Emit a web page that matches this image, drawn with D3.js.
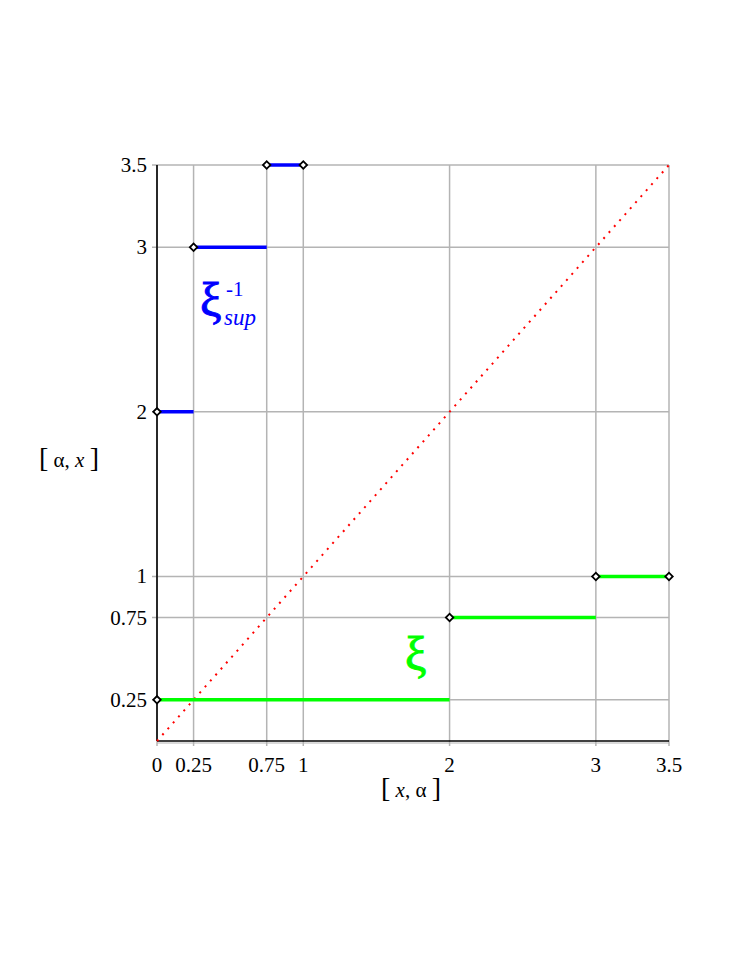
<!DOCTYPE html>
<html><head><meta charset="utf-8">
<script src="https://cdn.jsdelivr.net/npm/d3@7"></script>
<style>body{margin:0;background:#fff}svg{display:block}</style>
</head><body>
<script>
const xTicks = [0, 0.25, 0.75, 1, 2, 3, 3.5];
const yTicks = [0.25, 0.75, 1, 2, 3, 3.5];
const xiInvSup = [[0, 0.25, 2], [0.25, 0.75, 3], [0.75, 1, 3.5]];
const xiInvSupPoints = [[0, 2], [0.25, 3], [0.75, 3.5], [1, 3.5]];
const xi = [[0, 2, 0.25], [2, 3, 0.75], [3, 3.5, 1]];
const xiPoints = [[0, 0.25], [2, 0.75], [3, 1], [3.5, 1]];
const diag = [[0, 0], [3.5, 3.5]];

const W = 738, H = 955;
const svg = d3.select("body").append("svg").attr("width", W).attr("height", H);
const x = d3.scaleLinear().domain([0, 3.5]).range([157, 669]);
const y = d3.scaleLinear().domain([0, 3.5]).range([741, 165]);
const font = "'Liberation Serif', 'Times New Roman', serif";

// grid
const g = svg.append("g");
g.selectAll(".vg").data(xTicks).join("line")
  .attr("x1", d => x(d)).attr("x2", d => x(d)).attr("y1", y(3.5)).attr("y2", y(0) + 5)
  .attr("stroke", "#b4b4b4").attr("stroke-width", 1.5);
g.selectAll(".hg").data(yTicks).join("line")
  .attr("y1", d => y(d)).attr("y2", d => y(d)).attr("x1", x(0) - 5).attr("x2", x(3.5))
  .attr("stroke", "#b4b4b4").attr("stroke-width", 1.5);
svg.append("line").attr("x1", x(0)).attr("x2", x(3.5)).attr("y1", y(0) + 2).attr("y2", y(0) + 2).attr("stroke", "#b4b4b4").attr("stroke-width", 1);

// axes
svg.append("line").attr("x1", x(0)).attr("x2", x(0)).attr("y1", y(3.5)).attr("y2", y(0)).attr("stroke", "#000").attr("stroke-width", 1.6);
svg.append("line").attr("x1", x(0)).attr("x2", x(3.5)).attr("y1", y(0)).attr("y2", y(0)).attr("stroke", "#000").attr("stroke-width", 1.6);

// tick labels
svg.selectAll(".xl").data(xTicks).join("text")
  .attr("x", d => x(d)).attr("y", 772).attr("text-anchor", "middle")
  .attr("font-family", font).attr("font-size", 21).text(d => d);
svg.selectAll(".yl").data(yTicks).join("text")
  .attr("x", 147).attr("y", d => y(d) + 7).attr("text-anchor", "end")
  .attr("font-family", font).attr("font-size", 21).text(d => d);

// axis titles
function title(xc, yb, parts) {
  const t = svg.append("text").attr("x", xc).attr("y", yb).attr("text-anchor", "middle")
    .attr("font-family", font).attr("font-size", 21);
  parts.forEach(p => {
    const s = t.append("tspan").text(p.t);
    if (p.i) s.attr("font-style", "italic");
    if (p.b) s.attr("font-size", 28).attr("font-weight", 100);
  });
}
title(411, 797, [{t: "[", b: 1}, {t: " "}, {t: "x", i: 1}, {t: ", α "}, {t: "]", b: 1}]);
title(69, 467, [{t: "[", b: 1}, {t: " α, "}, {t: "x", i: 1}, {t: " "}, {t: "]", b: 1}]);

// diagonal
svg.append("path").datum(diag)
  .attr("d", d3.line().x(d => x(d[0])).y(d => y(d[1])))
  .attr("stroke", "#ff0000").attr("stroke-width", 2).attr("stroke-dasharray", "2,6").attr("fill", "none");

// segments
svg.selectAll(".bs").data(xiInvSup).join("line")
  .attr("x1", d => x(d[0])).attr("x2", d => x(d[1])).attr("y1", d => y(d[2])).attr("y2", d => y(d[2]))
  .attr("stroke", "#0000ff").attr("stroke-width", 3.5);
svg.selectAll(".gs").data(xi).join("line")
  .attr("x1", d => x(d[0])).attr("x2", d => x(d[1])).attr("y1", d => y(d[2])).attr("y2", d => y(d[2]))
  .attr("stroke", "#00ff00").attr("stroke-width", 3.5);

// diamonds
const sym = d3.symbol().type(d3.symbolSquare).size(28);
svg.selectAll(".pt").data(xiInvSupPoints.concat(xiPoints)).join("path")
  .attr("d", sym)
  .attr("transform", d => `translate(${x(d[0])},${y(d[1])}) rotate(45)`)
  .attr("fill", "#fff").attr("stroke", "#000").attr("stroke-width", 1.8);

// labels
svg.append("text").attr("x", 200).attr("y", 316).attr("fill", "#0000ff").attr("stroke", "#0000ff").attr("stroke-width", 1)
  .attr("font-family", font).attr("font-size", 48).text("ξ");
svg.append("text").attr("x", 226).attr("y", 296).attr("fill", "#0000ff").attr("font-family", font)
  .attr("font-size", 21).text("-1");
svg.append("text").attr("x", 224).attr("y", 325).attr("fill", "#0000ff").attr("font-family", font)
  .attr("font-size", 23).attr("font-style", "italic").text("sup");
svg.append("text").attr("x", 405).attr("y", 670).attr("fill", "#00ff00").attr("stroke", "#00ff00").attr("stroke-width", 1)
  .attr("font-family", font).attr("font-size", 48).text("ξ");
</script>
</body></html>
